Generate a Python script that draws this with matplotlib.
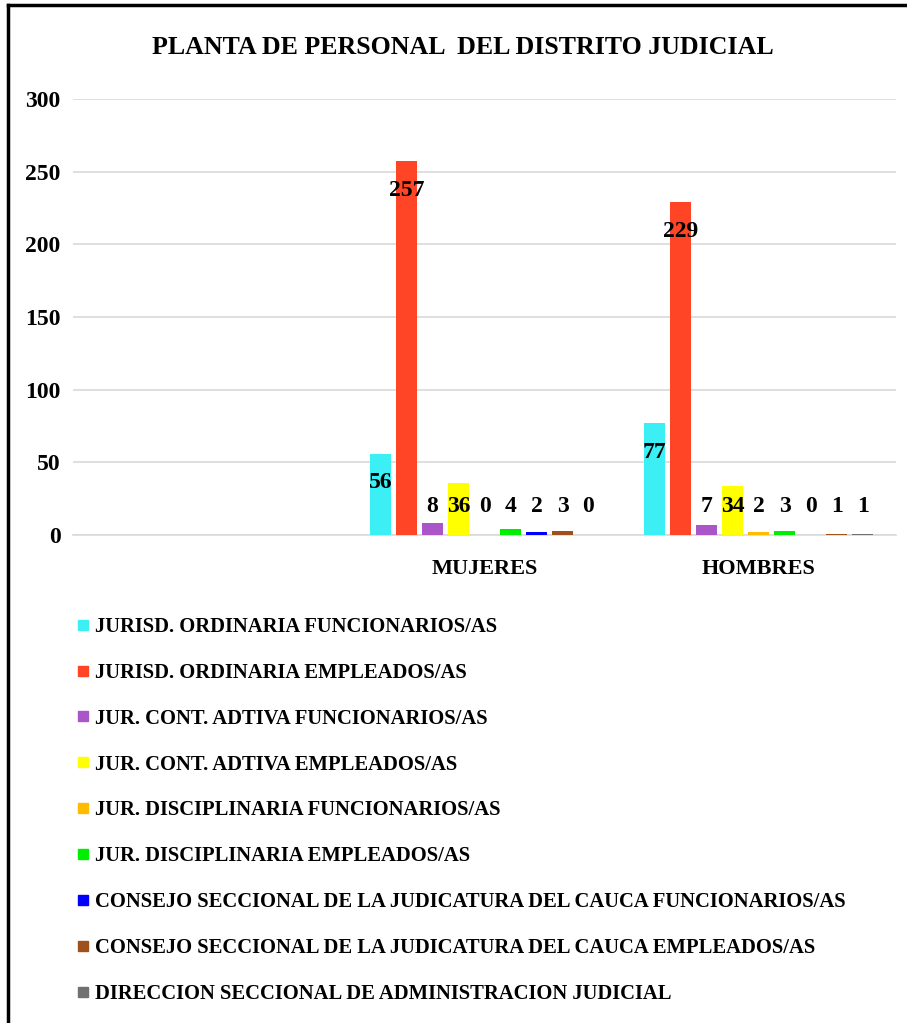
import matplotlib
matplotlib.use("Agg")
import matplotlib.pyplot as plt
from matplotlib.lines import Line2D
import numpy as np

categories = ["", "MUJERES", "HOMBRES"]
series_names = [
    "JURISD. ORDINARIA FUNCIONARIOS/AS",
    "JURISD. ORDINARIA EMPLEADOS/AS",
    "JUR. CONT. ADTIVA FUNCIONARIOS/AS",
    "JUR. CONT. ADTIVA EMPLEADOS/AS",
    "JUR. DISCIPLINARIA FUNCIONARIOS/AS",
    "JUR. DISCIPLINARIA EMPLEADOS/AS",
    "CONSEJO SECCIONAL DE LA JUDICATURA DEL CAUCA FUNCIONARIOS/AS",
    "CONSEJO SECCIONAL DE LA JUDICATURA DEL CAUCA EMPLEADOS/AS",
    "DIRECCION SECCIONAL DE ADMINISTRACION JUDICIAL",
]
mujeres = [56, 257, 8, 36, 0, 4, 2, 3, 0]
hombres = [77, 229, 7, 34, 2, 3, 0, 1, 1]
colors = ["#3CEFF5", "#FF4526", "#AA55C8", "#FFFF00", "#FFBB00",
          "#00EE00", "#0000FF", "#A0501A", "#707070"]
yticks = [0, 50, 100, 150, 200, 250, 300]

FONT = "Liberation Serif"
W, H = 907, 1023
fig = plt.figure(figsize=(W / 100, H / 100), dpi=100)

ax = fig.add_axes([73 / W, 1 - 535 / H, (896 - 73) / W, (535 - 99) / H])
n = len(series_names)
step = 0.0947
bw = 0.0765
x = np.arange(len(categories))
values = [[np.nan] * n, mujeres, hombres]

for i in range(n):
    vals = np.array([values[c][i] for c in range(len(categories))], dtype=float)
    pos = x + (i - (n - 1) / 2) * step
    ax.bar(pos, np.nan_to_num(vals), width=bw, color=colors[i], zorder=3)
    for p, v in zip(pos, vals):
        if np.isnan(v):
            continue
        ly = max(v - 20, 19.3)
        ax.text(p, ly, f"{int(v)}", ha="center", va="center",
                fontsize=17, fontweight="bold", family=FONT, zorder=4)

ax.set_xlim(-0.5, 2.5)
ax.set_ylim(0, 300)
ax.set_yticks(yticks)
ax.set_yticklabels([str(t) for t in yticks], fontsize=17, fontweight="bold", family=FONT)
ax.set_xticks(x)
ax.set_xticklabels(categories, fontsize=16, fontweight="bold", family=FONT)
ax.tick_params(axis="both", length=0)
ax.tick_params(axis="y", pad=9)
ax.tick_params(axis="x", pad=17)
ax.grid(axis="y", color="#D9D9D9", linewidth=1.2, zorder=0)
for s in ["top", "right", "left"]:
    ax.spines[s].set_visible(False)
ax.spines["bottom"].set_color("#D9D9D9")
ax.spines["bottom"].set_linewidth(1.2)

fig.text(463 / W, 1 - 48 / H, "PLANTA DE PERSONAL  DEL DISTRITO JUDICIAL",
         ha="center", va="center", fontsize=18.6, fontweight="bold", family=FONT)

handles = [Line2D([], [], marker="s", linestyle="none", markersize=7.5,
                  markerfacecolor=c, markeredgecolor=c) for c in colors]
fig.legend(handles, series_names, loc="upper left",
           bbox_to_anchor=(77 / W, 1 - 617 / H), frameon=False,
           prop={"family": FONT, "weight": "bold", "size": 14.9},
           handlelength=0.55, handletextpad=0.3, labelspacing=1.25,
           borderpad=0, borderaxespad=0)

fig.add_artist(Line2D([8 / W, 8 / W], [0, 1 - 5 / H], transform=fig.transFigure,
                      color="black", linewidth=2.5))
fig.add_artist(Line2D([8 / W, 1], [1 - 5 / H, 1 - 5 / H], transform=fig.transFigure,
                      color="black", linewidth=2.5))

fig.savefig("out.png", dpi=100)
